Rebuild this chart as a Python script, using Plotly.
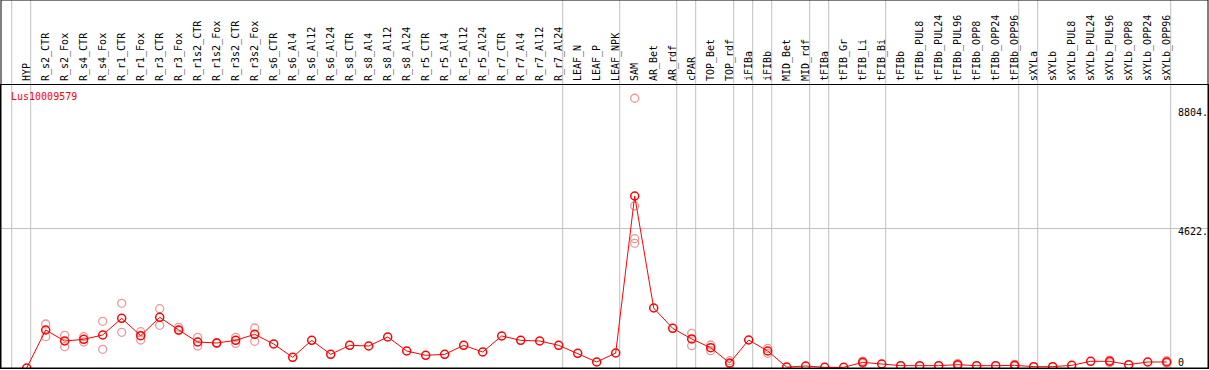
import plotly.graph_objects as go

categories = ["HYP", "R_s2_CTR", "R_s2_Fox", "R_s4_CTR", "R_s4_Fox", "R_r1_CTR", "R_r1_Fox",
              "R_r3_CTR", "R_r3_Fox", "R_r1s2_CTR", "R_r1s2_Fox", "R_r3s2_CTR", "R_r3s2_Fox",
              "R_s6_CTR", "R_s6_Al4", "R_s6_Al12", "R_s6_Al24", "R_s8_CTR", "R_s8_Al4",
              "R_s8_Al12", "R_s8_Al24", "R_r5_CTR", "R_r5_Al4", "R_r5_Al12", "R_r5_Al24",
              "R_r7_CTR", "R_r7_Al4", "R_r7_Al12", "R_r7_Al24", "LEAF_N", "LEAF_P", "LEAF_NPK",
              "SAM", "AR_Bet", "AR_rdf", "cPAR", "TOP_Bet", "TOP_rdf", "iFIBa", "iFIBb",
              "MID_Bet", "MID_rdf", "tFIBa", "tFIB_Gr", "tFIB_Li", "tFIB_Bi", "tFIBb",
              "tFIBb_PUL8", "tFIBb_PUL24", "tFIBb_PUL96", "tFIBb_OPP8", "tFIBb_OPP24",
              "tFIBb_OPP96", "sXYLa", "sXYLb", "sXYLb_PUL8", "sXYLb_PUL24", "sXYLb_PUL96",
              "sXYLb_OPP8", "sXYLb_OPP24", "sXYLb_OPP96"]

mean_values = [0, 1257, 893, 949, 1092, 1643, 1070, 1676, 1257, 860, 827, 915, 1114,
               794, 353, 915, 452, 750, 728, 1026, 562, 419, 452, 750, 529,
               1059, 915, 893, 750, 485, 199, 496,
               5691, 1985, 1312, 960, 673, 165, 926, 562,
               30, 66, 22, 22, 188, 132, 77, 77, 77, 110, 77, 77, 88,
               44, 44, 88, 221, 221, 110, 199, 199]

# replicate measurements (category, value)
rep_categories = ["R_s2_CTR", "R_s2_CTR", "R_s2_Fox", "R_s2_Fox", "R_s4_CTR", "R_s4_CTR",
                  "R_s4_Fox", "R_s4_Fox", "R_r1_CTR", "R_r1_CTR", "R_r1_Fox", "R_r1_Fox",
                  "R_r3_CTR", "R_r3_CTR", "R_r3_Fox", "R_r3_Fox", "R_r1s2_CTR", "R_r1s2_CTR",
                  "R_r1s2_Fox", "R_r1s2_Fox", "R_r3s2_CTR", "R_r3s2_CTR", "R_r3s2_Fox",
                  "R_r3s2_Fox", "SAM", "SAM", "SAM", "SAM", "cPAR", "cPAR", "TOP_Bet",
                  "TOP_Bet", "TOP_rdf", "TOP_rdf", "iFIBb", "iFIBb", "tFIB_Li", "tFIB_Li",
                  "tFIBb_PUL96", "tFIBb_PUL96", "tFIBb_OPP96", "tFIBb_OPP96",
                  "sXYLb_PUL96", "sXYLb_PUL96", "sXYLb_OPP96", "sXYLb_OPP96"]
rep_values = [1456, 1036, 1081, 705, 1036, 860,
              1545, 619, 2140, 1181, 1202, 926,
              1962, 1412, 1346, 1234, 1015, 728,
              840, 815, 1015, 816, 1323,
              883, 8924, 5360, 4278, 4125, 1148, 738, 761,
              573, 241, 132, 652, 486, 230, 150,
              150, 80, 120, 60,
              260, 180, 240, 160]

# index of the last category in each group (group separators drawn after them)
group_ends = [-1, 0, 28, 31, 34, 35, 37, 38, 39, 41, 42, 45, 52, 53, 60]

y_tick_values = [8804, 4622, 0]
y_tick_texts = ["8804.", "4622.", "0"]
y_tick_shift = [-3, 4, -2]
y_tick_anchor = ["top", "top", "bottom"]

title_text = "Lus10009579"

W, H = 1209, 370
ML, MR, MT, MB = 1, 1, 85, 2
plot_w = W - ML - MR
plot_h = H - MT - MB
top_paper = 1 + MT / plot_h

fig = go.Figure()

fig.add_trace(go.Scatter(
    x=rep_categories, y=rep_values, mode="markers",
    marker=dict(symbol="circle-open", size=8, color="#ee9696", line=dict(width=1.3)),
    showlegend=False, hoverinfo="skip"))

fig.add_trace(go.Scatter(
    x=categories, y=mean_values, mode="lines+markers",
    line=dict(color="#ff0000", width=1),
    marker=dict(symbol="circle-open", size=8, color="#ff0000", line=dict(width=1.5)),
    showlegend=False))

shapes = []
for g in group_ends:
    shapes.append(dict(type="line", xref="x", yref="paper", x0=g + 0.21, x1=g + 0.21,
                       y0=0, y1=top_paper, line=dict(color="#c0c0c0", width=1), layer="below"))
shapes.append(dict(type="rect", xref="paper", yref="paper", x0=0, x1=1, y0=0, y1=top_paper,
                   line=dict(color="black", width=1), layer="above"))

annotations = [dict(text=title_text, xref="paper", yref="paper", x=(9.3 - ML) / plot_w,
                    y=(H - MB - 97.0) / plot_h,
                    xanchor="left", yanchor="middle", showarrow=False,
                    font=dict(family="DejaVu Sans Mono", size=10, color="#ff0000"))]
for v, t, s, a in zip(y_tick_values, y_tick_texts, y_tick_shift, y_tick_anchor):
    annotations.append(dict(text=t, xref="paper", yref="y", x=(1176 - ML) / plot_w, y=v,
                            yshift=s, xanchor="left", yanchor=a, showarrow=False,
                            font=dict(family="DejaVu Sans Mono", size=10, color="black")))

px_per_cat = 19.0
x0 = -(26.7 - ML) / px_per_cat
x1 = x0 + plot_w / px_per_cat
y_top = plot_h / ((368 - 228.3) / 4622)

fig.update_layout(
    width=W, height=H,
    margin=dict(l=ML, r=MR, t=MT, b=MB, pad=0, autoexpand=False),
    paper_bgcolor="white", plot_bgcolor="white",
    shapes=shapes, annotations=annotations,
    xaxis=dict(type="category", categoryorder="array", categoryarray=categories,
               range=[x0, x1], side="top", tickangle=-90, ticks="", showgrid=False,
               tickfont=dict(family="DejaVu Sans Mono", size=10, color="black"),
               showline=True, mirror=True, linecolor="black", linewidth=1,
               zeroline=False, fixedrange=True, ticklabelstandoff=1, automargin=False),
    yaxis=dict(range=[0, y_top], tickvals=[4622], showticklabels=False, ticks="",
               showgrid=True, gridcolor="#c0c0c0", gridwidth=1, zeroline=False,
               showline=True, mirror=True, linecolor="black", linewidth=1, fixedrange=True,
               automargin=False),
    hovermode="closest",
)

fig.write_html("out.html", config={"displayModeBar": False},
               post_script="document.body.style.margin='0';document.body.style.overflow='hidden';")
